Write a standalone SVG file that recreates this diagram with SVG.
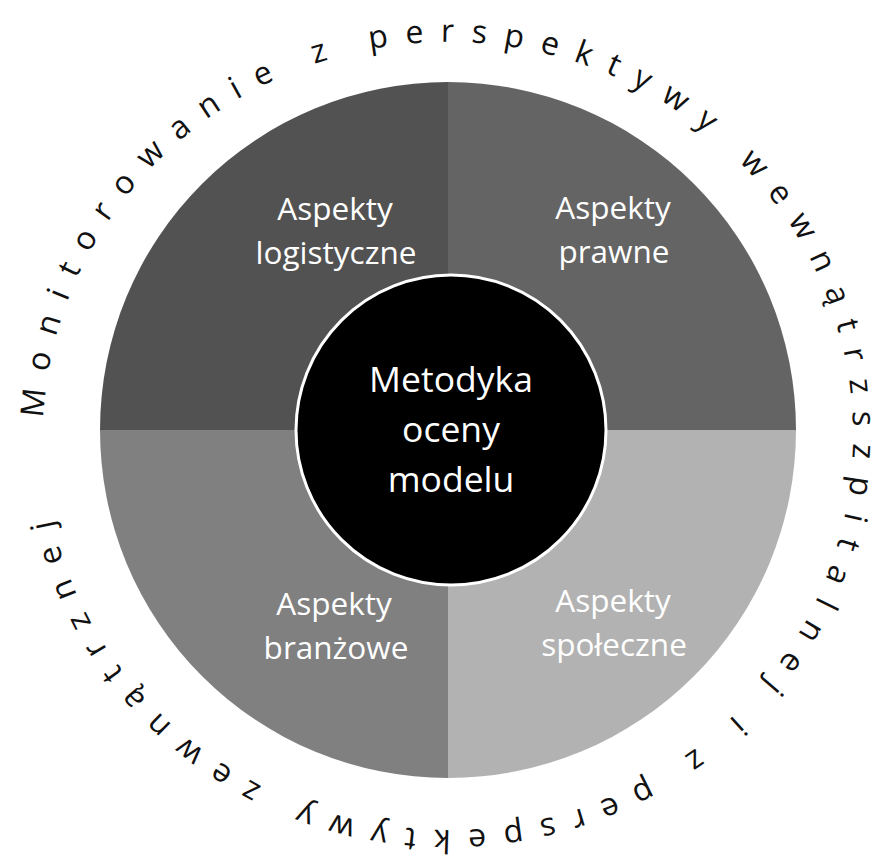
<svg xmlns="http://www.w3.org/2000/svg" xmlns:xlink="http://www.w3.org/1999/xlink" width="879" height="861" viewBox="0 0 879 861">
  <style>
    .label { font-family: "Open Sans", "Liberation Sans", sans-serif; font-size: 31.5px; fill: #ffffff; text-anchor: middle; }
    .core { font-family: "Open Sans", "Liberation Sans", sans-serif; font-size: 35.5px; fill: #ffffff; text-anchor: middle; }
    .ring { font-family: "Open Sans", "Liberation Sans", sans-serif; font-size: 32px; fill: #111111; letter-spacing: 17px; }
  </style>
  <defs>
    <!-- baseline for the lettering around the wheel, clockwise from the left -->
    <path id="ringPath" d="M43,436 A405,394 0 1,1 853,436 A405,394 0 1,1 43,436"/>
  </defs>
  <rect width="879" height="861" fill="#ffffff"/>

  <g id="logistyczne">
    <path d="M448,430 L100,430 A348,348 0 0,1 448,82 Z" fill="#525252"/>
    <text class="label" x="335" y="220">Aspekty</text>
    <text class="label" x="336" y="264">logistyczne</text>
  </g>
  <g id="prawne">
    <path d="M448,430 L448,82 A348,348 0 0,1 796,430 Z" fill="#646464"/>
    <text class="label" x="613" y="219">Aspekty</text>
    <text class="label" x="614" y="263">prawne</text>
  </g>
  <g id="spoleczne">
    <path d="M448,430 L796,430 A348,348 0 0,1 448,778 Z" fill="#b2b2b2"/>
    <text class="label" x="613" y="612">Aspekty</text>
    <text class="label" x="614" y="656">społeczne</text>
  </g>
  <g id="branzowe">
    <path d="M448,430 L448,778 A348,348 0 0,1 100,430 Z" fill="#808080"/>
    <text class="label" x="334" y="615">Aspekty</text>
    <text class="label" x="336" y="659">branżowe</text>
  </g>

  <g id="metodyka">
    <circle cx="451" cy="430" r="155" fill="#000000" stroke="#ffffff" stroke-width="3"/>
    <text class="core" x="451" y="392">Metodyka</text>
    <text class="core" x="451" y="442">oceny</text>
    <text class="core" x="451" y="492">modelu</text>
  </g>

  <g id="monitorowanie">
    <text class="ring"><textPath xlink:href="#ringPath" href="#ringPath" startOffset="18">Monitorowanie z perspektywy wewnątrzszpitalnej i z perspektywy zewnątrznej</textPath></text>
  </g>
</svg>
